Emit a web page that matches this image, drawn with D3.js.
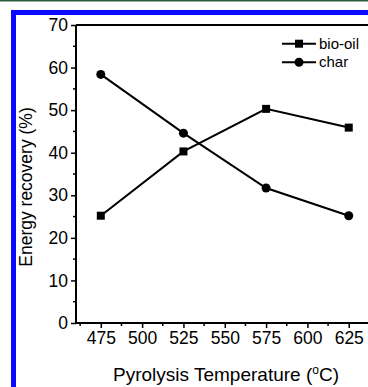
<!DOCTYPE html>
<html>
<head>
<meta charset="utf-8">
<script src="https://cdn.jsdelivr.net/npm/d3@7"></script>
<style>
  html, body { margin: 0; padding: 0; background: #fff; }
  svg { display: block; }
  text { font-family: "Liberation Sans", Arial, sans-serif; fill: #000; }
</style>
</head>
<body>
<script>
// Energy recovery of pyrolysis products vs. temperature
const temperatures = [475, 525, 575, 625];
const bioOil = [25.2, 40.3, 50.3, 45.9];
const charValues = [58.4, 44.6, 31.7, 25.2];
const xTicks = [475, 500, 525, 550, 575, 600, 625];
const yTicks = [0, 10, 20, 30, 40, 50, 60, 70];
const seriesNames = ["bio-oil", "char"];

const W = 368, H = 387;
const svg = d3.select("body").append("svg").attr("width", W).attr("height", H);

// page frame: thin dark line on top, blue border top and left
svg.append("rect").attr("x", 0).attr("y", 0).attr("width", W).attr("height", 1.5).attr("fill", "#2e5a3c");
svg.append("rect").attr("x", 11).attr("y", 10).attr("width", W - 11).attr("height", 5).attr("fill", "#0a0aff");
svg.append("rect").attr("x", 11).attr("y", 10).attr("width", 5).attr("height", H - 10).attr("fill", "#0a0aff");

const plotLeft = 76, plotTop = 25, plotBottom = 323;
const x = d3.scaleLinear().domain([460, 640]).range([plotLeft, plotLeft + 180 * 1.653]);
const y = d3.scaleLinear().domain([0, 70]).range([plotBottom, plotTop]);

const g = svg.append("g");

// minor ticks
const xMinor = d3.range(462.5, 640, 25);
g.selectAll(".xminor").data(xMinor).join("line")
  .attr("x1", d => x(d)).attr("x2", d => x(d))
  .attr("y1", plotBottom).attr("y2", plotBottom + 3)
  .attr("stroke", "#000").attr("stroke-width", 1.5);
const yMinor = d3.range(5, 70, 10);
g.selectAll(".yminor").data(yMinor).join("line")
  .attr("x1", plotLeft - 3).attr("x2", plotLeft)
  .attr("y1", d => y(d)).attr("y2", d => y(d))
  .attr("stroke", "#000").attr("stroke-width", 1.5);

// axes
const xAxis = g.append("g").attr("transform", `translate(0,${plotBottom})`)
  .call(d3.axisBottom(x).tickValues(xTicks).tickSize(5).tickPadding(4).tickFormat(d3.format("d")));
const yAxis = g.append("g").attr("transform", `translate(${plotLeft},0)`)
  .call(d3.axisLeft(y).tickValues(yTicks).tickSize(5).tickPadding(3).tickFormat(d3.format("d")));
[xAxis, yAxis].forEach(a => {
  a.select(".domain").attr("stroke", "#000").attr("stroke-width", 2);
  a.selectAll(".tick line").attr("stroke", "#000").attr("stroke-width", 1.5);
  a.selectAll(".tick text").attr("font-size", 17.5).attr("font-family", "Liberation Sans, Arial, sans-serif").attr("fill", "#000");
});
xAxis.select(".domain").attr("d", `M${plotLeft},0H${W + 10}`);
yAxis.select(".domain").attr("d", `M0,${plotBottom}V${plotTop}`);

// top frame line
g.append("line").attr("x1", plotLeft).attr("x2", W + 10).attr("y1", plotTop).attr("y2", plotTop)
  .attr("stroke", "#000").attr("stroke-width", 2);

// series lines
const line = d3.line().x((d, i) => x(temperatures[i])).y(d => y(d));
[bioOil, charValues].forEach(vals => {
  g.append("path").datum(vals).attr("d", line)
    .attr("fill", "none").attr("stroke", "#000").attr("stroke-width", 2);
});
g.selectAll(".sq").data(bioOil).join("rect")
  .attr("x", (d, i) => x(temperatures[i]) - 4).attr("y", d => y(d) - 4)
  .attr("width", 8).attr("height", 8).attr("fill", "#000");
g.selectAll(".ci").data(charValues).join("circle")
  .attr("cx", (d, i) => x(temperatures[i])).attr("cy", d => y(d)).attr("r", 4.5).attr("fill", "#000");

// legend
const legend = g.append("g");
seriesNames.forEach((name, i) => {
  const ly = 43.7 + i * 18.6;
  legend.append("line").attr("x1", 282).attr("x2", 316).attr("y1", ly).attr("y2", ly)
    .attr("stroke", "#000").attr("stroke-width", 2);
  if (i === 0) {
    legend.append("rect").attr("x", 295).attr("y", ly - 4).attr("width", 8).attr("height", 8).attr("fill", "#000");
  } else {
    legend.append("circle").attr("cx", 299).attr("cy", ly).attr("r", 4.5).attr("fill", "#000");
  }
  legend.append("text").attr("x", 319).attr("y", ly + 5).attr("font-size", 15).text(name);
});

// axis titles
const xt = svg.append("text").attr("x", 226).attr("y", 381).attr("text-anchor", "middle").attr("font-size", 19);
xt.append("tspan").text("Pyrolysis Temperature (");
xt.append("tspan").attr("font-size", 12).attr("dy", -7).text("o");
xt.append("tspan").attr("dy", 7).text("C)");

svg.append("text").attr("transform", "translate(32,187) rotate(-90)")
  .attr("text-anchor", "middle").attr("font-size", 17.5).text("Energy recovery (%)");
</script>
</body>
</html>
